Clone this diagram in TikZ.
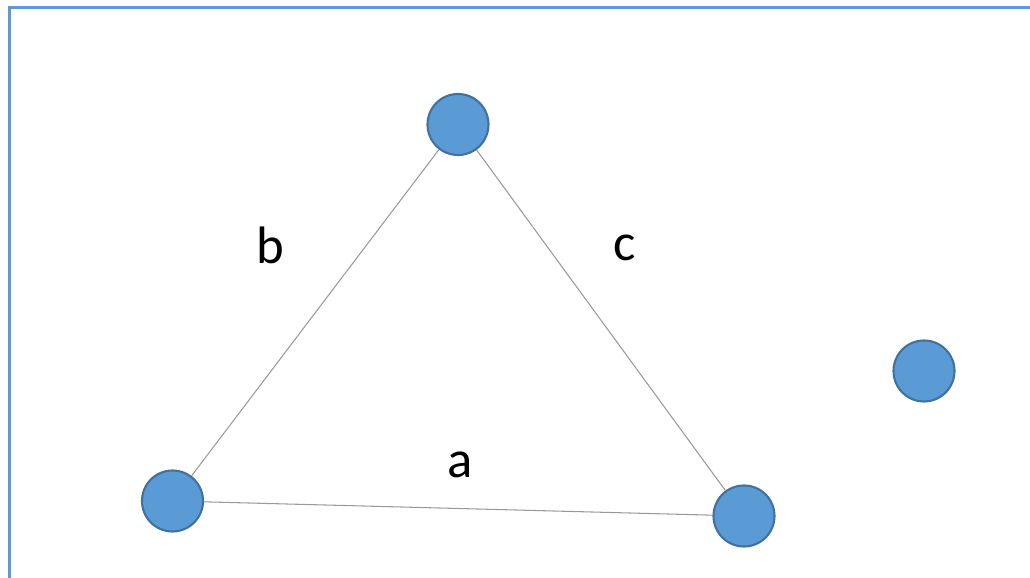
\documentclass[tikz,border=0pt]{standalone}
\usepackage{fontspec}
\setmainfont{Carlito}
\definecolor{vblue}{HTML}{5B9BD5}
\definecolor{vedge}{HTML}{41719C}
\tikzset{
  vertex/.style={circle, fill=vblue, draw=vedge, line width=1.2pt, minimum size=1.22cm, inner sep=0pt},
  edge/.style={draw=gray!80, line width=0.6pt},
  lbl/.style={font=\fontsize{30}{36}\selectfont}
}
\begin{document}
\begin{tikzpicture}
                \useasboundingbox (0,0) rectangle (20.6,-11.56);
                \draw[vblue, line width=2.2pt] (0.19,-11.56) -- (0.19,-0.15) -- (20.6,-0.15);
                \node[vertex] (top) at (9.16,-2.49) {};
                \node[vertex] (left) at (3.45,-10.02) {};
                \node[vertex] (right) at (14.88,-10.32) {};
                \node[vertex] (lone) at (18.48,-7.42) {};
                \draw[edge] (left) -- (top);
                \draw[edge] (top) -- (right);
                \draw[edge] (left) -- (right);
                \node[lbl] (b) at (5.4,-4.9) {b};
                \node[lbl] (c) at (12.5,-4.96) {c};
                \node[lbl] (a) at (9.2,-9.3) {a};
\end{tikzpicture}
\end{document}
